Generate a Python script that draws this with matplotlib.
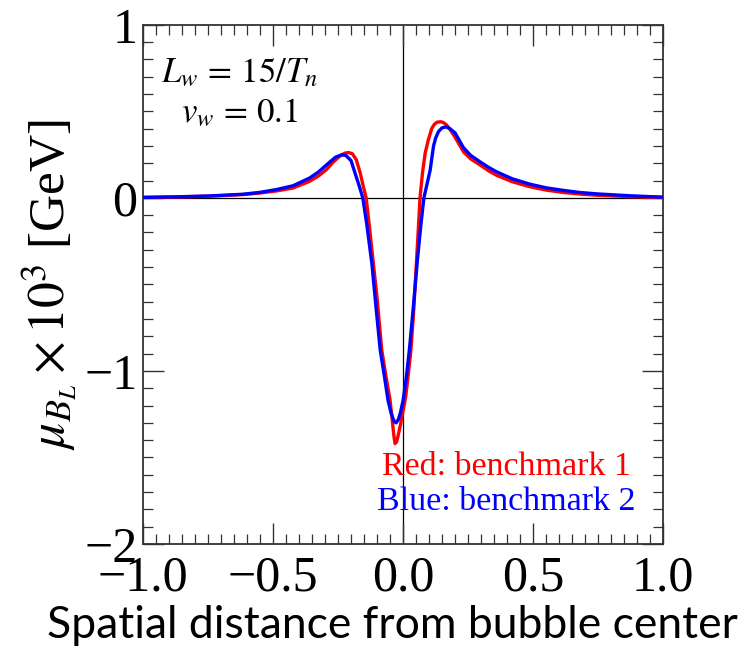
import matplotlib
matplotlib.use("Agg")
import matplotlib.pyplot as plt
from matplotlib.ticker import MultipleLocator, FixedLocator

plt.rcParams['font.family'] = ['Liberation Serif', 'DejaVu Serif']
plt.rcParams['mathtext.fontset'] = 'stix'

# benchmark 1 (red)
x_red = [-1.0, -0.873, -0.744, -0.615, -0.55, -0.487, -0.423, -0.359, -0.325, -0.295, -0.27,
         -0.244, -0.225, -0.21, -0.195, -0.18, -0.165, -0.152, -0.142, -0.13, -0.12, -0.10,
         -0.082, -0.065, -0.05, -0.04, -0.035, -0.031, -0.025, -0.02, -0.01, 0.0, 0.01,
         0.02, 0.03, 0.04, 0.054, 0.06, 0.065, 0.075, 0.085, 0.097, 0.104, 0.11, 0.12,
         0.13, 0.145, 0.155, 0.168, 0.185, 0.2, 0.232, 0.26, 0.296, 0.33, 0.36, 0.42,
         0.488, 0.55, 0.617, 0.68, 0.745, 0.873, 1.0]
y_red = [0.002, 0.005, 0.01, 0.019, 0.028, 0.04, 0.057, 0.096, 0.127, 0.163, 0.205,
         0.24, 0.258, 0.262, 0.255, 0.22, 0.144, 0.06, 0.0, -0.16, -0.30, -0.58,
         -0.88, -1.04, -1.17, -1.31, -1.38, -1.42, -1.41, -1.38, -1.31, -1.23, -1.15,
         -1.02, -0.88, -0.67, -0.30, -0.14, 0.0, 0.15, 0.26, 0.335, 0.37, 0.40, 0.425,
         0.437, 0.44, 0.435, 0.42, 0.385, 0.35, 0.266, 0.225, 0.19, 0.155, 0.13, 0.093,
         0.064, 0.045, 0.031, 0.022, 0.015, 0.007, 0.003]

# benchmark 2 (blue)
x_blue = [-1.0, -0.873, -0.744, -0.615, -0.55, -0.487, -0.423, -0.359, -0.325, -0.295,
          -0.26, -0.236, -0.22, -0.2, -0.185, -0.17, -0.155, -0.14, -0.127, -0.12, -0.105,
          -0.088, -0.072, -0.058, -0.045, -0.035, -0.027, -0.018, -0.01, 0.0, 0.012,
          0.024, 0.04, 0.055, 0.068, 0.08, 0.092, 0.104, 0.117, 0.125, 0.136, 0.15,
          0.165, 0.18, 0.2, 0.232, 0.26, 0.296, 0.33, 0.36, 0.42, 0.488, 0.55, 0.617,
          0.68, 0.745, 0.873, 1.0]
y_blue = [0.003, 0.006, 0.011, 0.021, 0.032, 0.048, 0.07, 0.115, 0.15, 0.19,
          0.235, 0.249, 0.245, 0.215, 0.144, 0.075, 0.0, -0.15, -0.30, -0.38, -0.62,
          -0.88, -1.03, -1.17, -1.25, -1.29, -1.30, -1.28, -1.24, -1.17, -1.04,
          -0.88, -0.62, -0.36, -0.16, 0.0, 0.08, 0.16, 0.30, 0.345, 0.383, 0.405,
          0.41, 0.40, 0.375, 0.29, 0.245, 0.208, 0.175, 0.15, 0.11, 0.079, 0.058, 0.043,
          0.031, 0.023, 0.012, 0.004]

x_ticks = [-1.0, -0.5, 0.0, 0.5, 1.0]
x_tick_labels = ['\u22121.0', '\u22120.5', '0.0', '0.5', '1.0']
y_ticks = [1, 0, -1, -2]
y_tick_labels = ['1', '0', '\u22121', '\u22122']

fig = plt.figure(figsize=(7.41, 6.53), dpi=100)
ax = fig.add_axes([0.193, 0.167, 0.702, 0.795])

ax.axhline(0, color='black', lw=0.9, zorder=1)
ax.axvline(0, color='black', lw=0.9, zorder=1)
ax.plot(x_red, y_red, color='#ff0000', lw=2.4, zorder=3, solid_joinstyle='round')
ax.plot(x_blue, y_blue, color='#0000ff', lw=2.4, zorder=4, solid_joinstyle='round')

ax.set_xlim(-1, 1)
ax.set_ylim(-2, 1)
ax.xaxis.set_major_locator(FixedLocator(x_ticks))
ax.xaxis.set_minor_locator(MultipleLocator(0.05))
ax.yaxis.set_major_locator(FixedLocator(y_ticks))
ax.yaxis.set_minor_locator(MultipleLocator(0.1))
ax.set_xticklabels(x_tick_labels)
ax.set_yticklabels(y_tick_labels)
ax.tick_params(which='both', direction='in', top=True, right=True, color='#333333')
ax.tick_params(axis='x', which='major', pad=8)
ax.tick_params(axis='y', which='major', pad=4)
ax.tick_params(which='major', length=15, width=1.0, labelsize=36)
ax.tick_params(which='minor', length=7, width=0.9)
for s in ax.spines.values():
    s.set_linewidth(1.3)
    s.set_color('#333333')

ax.text(0.185, 0.905, r'$L_w\,=\,15/T_n$', transform=ax.transAxes, ha='center', va='center', fontsize=25)
ax.text(0.185, 0.828, r'$v_w\,=\,0.1$', transform=ax.transAxes, ha='center', va='center', fontsize=25)
ax.text(0.698, 0.148, 'Red: benchmark 1', color='#ff0000', transform=ax.transAxes, ha='center', va='center', fontsize=24.5)
ax.text(0.698, 0.082, 'Blue: benchmark 2', color='#0000ff', transform=ax.transAxes, ha='center', va='center', fontsize=24.5)

ax.set_ylabel(r'$\mu_{B_L}\times 10^3$ [GeV]', fontsize=37, labelpad=4)
fig.text(0.529, 1 - 638 / 653, 'Spatial distance from bubble center', fontsize=32, family='Lato',
         ha='center', va='baseline')

fig.savefig('out.png', dpi=100)
